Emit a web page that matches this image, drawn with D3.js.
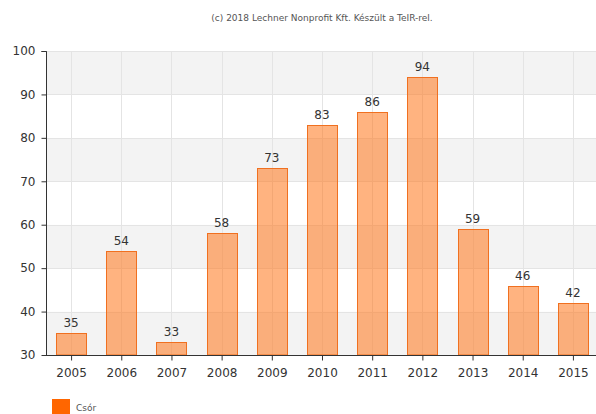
<!DOCTYPE html>
<html>
<head>
<meta charset="utf-8">
<script src="https://cdn.jsdelivr.net/npm/d3@7"></script>
<style>
  html, body { margin: 0; padding: 0; background: #fff; overflow: hidden; }
  svg { display: block; font-family: "DejaVu Sans", Verdana, sans-serif; }
</style>
</head>
<body>
<svg id="chart" width="596" height="414"></svg>
<script>
const years = ["2005","2006","2007","2008","2009","2010","2011","2012","2013","2014","2015"];
const values = [35, 54, 33, 58, 73, 83, 86, 94, 59, 46, 42];
const yTicks = [30, 40, 50, 60, 70, 80, 90, 100];
const seriesName = "Csór";
const credit = "(c) 2018 Lechner Nonprofit Kft. Készült a TeIR-rel.";

(function () {
const svg = d3.select("#chart");
const mLeft = 46, mTop = 51, plotW = 552, plotH = 304;

const xc = d3.scalePoint().domain(years).range([mLeft, mLeft + plotW]).padding(0.5);
const y = d3.scaleLinear().domain([30, 100]).range([mTop + plotH, mTop]);

// alternating bands
const bands = d3.range(0, yTicks.length - 1).map(i => [yTicks[i], yTicks[i + 1]]);
svg.append("g").selectAll("rect").data(bands).join("rect")
  .attr("x", mLeft).attr("width", plotW)
  .attr("y", d => y(d[1])).attr("height", d => y(d[0]) - y(d[1]))
  .attr("fill", (d, i) => (yTicks.length - 2 - i) % 2 === 0 ? "#f3f3f3" : "#ffffff");

// horizontal grid
svg.append("g").selectAll("line").data(yTicks).join("line")
  .attr("x1", mLeft).attr("x2", mLeft + plotW)
  .attr("y1", d => Math.round(y(d)) + 0.5).attr("y2", d => Math.round(y(d)) + 0.5)
  .attr("stroke", "#e4e4e4");

// vertical grid
svg.append("g").selectAll("line").data(years).join("line")
  .attr("x1", d => Math.round(xc(d)) + 0.5).attr("x2", d => Math.round(xc(d)) + 0.5)
  .attr("y1", mTop).attr("y2", mTop + plotH)
  .attr("stroke", "#e4e4e4");

// bars
svg.append("g").selectAll("rect").data(values).join("rect")
  .attr("x", (d, i) => Math.round(xc(years[i]) - 15) + 0.5)
  .attr("width", 30)
  .attr("y", d => Math.round(y(d)) + 0.5)
  .attr("height", d => y(30) - Math.round(y(d)) - 0.5)
  .attr("fill", "#ff7417").attr("fill-opacity", 0.55)
  .attr("stroke", "#f07020").attr("stroke-width", 1);

// value labels
svg.append("g").selectAll("text").data(values).join("text")
  .attr("x", (d, i) => xc(years[i]))
  .attr("y", d => y(d) - 6)
  .attr("text-anchor", "middle")
  .attr("font-size", 12).attr("fill", "#333")
  .text(d => d);

// axes
const yAxis = d3.axisLeft(y).tickValues(yTicks).tickSize(5).tickPadding(6);
const gy = svg.append("g").attr("transform", `translate(${mLeft + 0.5},0)`).call(yAxis);
gy.select(".domain").attr("stroke", "#333").attr("d", `M-5,${y(100)+0.5}H0V${y(30)+0.5}`);
gy.selectAll(".tick line").attr("stroke", "#333");
gy.selectAll(".tick text").attr("font-size", 12).attr("fill", "#333")
  .attr("font-family", "DejaVu Sans, Verdana, sans-serif");

const xAxis = d3.axisBottom(xc).tickSize(5).tickPadding(8);
const gx = svg.append("g").attr("transform", `translate(0,${mTop + plotH + 0.5})`).call(xAxis);
gx.select(".domain").attr("stroke", "#333").attr("d", `M${mLeft},0H${mLeft + plotW}`);
gx.selectAll(".tick line").attr("stroke", "#333");
gx.selectAll(".tick text").attr("font-size", 12).attr("fill", "#333")
  .attr("font-family", "DejaVu Sans, Verdana, sans-serif");

// credit
svg.append("text").attr("x", 322).attr("y", 21).attr("text-anchor", "middle")
  .attr("font-size", 9).attr("fill", "#555").text(credit);

// legend
svg.append("rect").attr("x", 52).attr("y", 399).attr("width", 18).attr("height", 18).attr("fill", "#ff6600");
svg.append("text").attr("x", 76).attr("y", 411).attr("font-size", 9).attr("fill", "#555").text(seriesName);
})();
</script>
</body>
</html>
